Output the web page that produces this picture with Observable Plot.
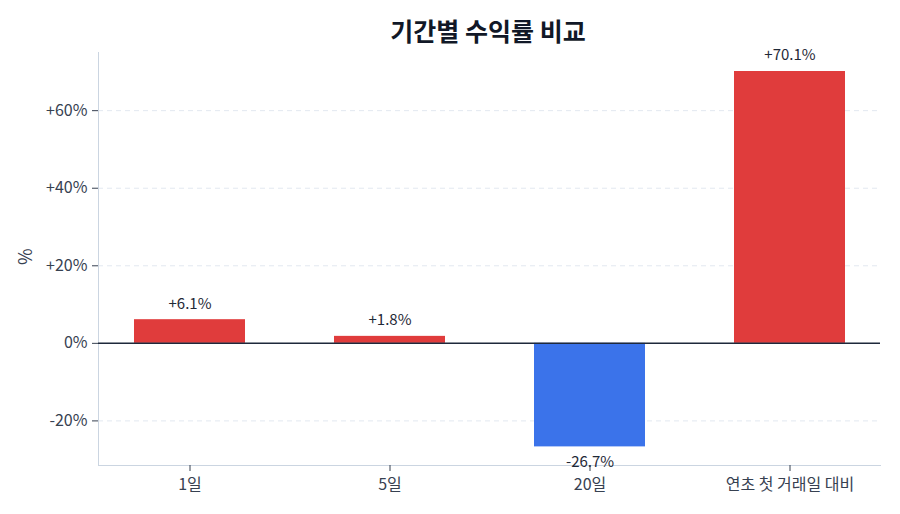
<!DOCTYPE html>
<html>
<head>
<meta charset="utf-8">
<script src="https://cdn.jsdelivr.net/npm/d3@7"></script>
<script src="https://cdn.jsdelivr.net/npm/@observablehq/plot@0.6"></script>
<style>
  body { margin: 0; background: #fff; font-family: "Noto Sans CJK KR", "Noto Sans", sans-serif; }
  #wrap { position: relative; width: 900px; height: 514px; }
  #title { position: absolute; top: 13px; left: 0; width: 900px; text-align: center; font-size: 25px; font-weight: 700; line-height: 34px; color: #111827; padding-left: 76px; box-sizing: border-box; }
</style>
</head>
<body>
<div id="wrap">
  <div id="title">기간별 수익률 비교</div>
  <div id="chart"></div>
</div>
<script>
const periods = ["1일", "5일", "20일", "연초 첫 거래일 대비"];
const returns = [6.1, 1.8, -26.7, 70.1];
const yTicks = [-20, 0, 20, 40, 60];
const yLabel = "%";

const data = periods.map((p, i) => ({period: p, value: returns[i]}));
const fmt = v => (v > 0 ? "+" : "") + v.toFixed(1) + "%";
const tickFmt = v => (v > 0 ? "+" : "") + v + "%";

const chart = Plot.plot({
  width: 900,
  height: 514,
  marginTop: 52,
  marginBottom: 49,
  marginLeft: 98,
  marginRight: 20,
  style: {fontFamily: '"Noto Sans CJK KR", "Noto Sans", sans-serif', fontSize: "16px", color: "#374151", background: "transparent"},
  x: {domain: periods, paddingInner: 0.445, paddingOuter: 0.1775, label: null},
  y: {domain: [-31.5, 75], label: null},
  marks: [
    Plot.gridY(yTicks, {stroke: "#e2e8f0", strokeOpacity: 1, strokeDasharray: "5,4"}),
    Plot.frame({anchor: "left", stroke: "#cbd5e1"}),
    Plot.frame({anchor: "bottom", stroke: "#cbd5e1"}),
    Plot.barY(data, {x: "period", y: "value", fill: d => d.value >= 0 ? "#e03c3c" : "#3b73ea"}),
    Plot.ruleY([0], {stroke: "#1e293b", strokeWidth: 1.5}),
    Plot.text(data, {x: "period", y: "value", text: d => fmt(d.value), lineAnchor: "middle", fontSize: 15, fill: "#1f2937", filter: d => d.value >= 0, dy: -16}),
    Plot.text(data, {x: "period", y: "value", text: d => fmt(d.value), lineAnchor: "middle", fontSize: 15, fill: "#1f2937", filter: d => d.value < 0, dy: 15}),
    Plot.axisY({ticks: yTicks, tickFormat: tickFmt, tickSize: 6, tickPadding: 5, stroke: "#374151", fontSize: 16, fill: "#374151", label: null}),
    Plot.text([yLabel], {frameAnchor: "left", rotate: -90, dx: -72, dy: 6, fontSize: 18, fill: "#374151", lineAnchor: "middle"}),
    Plot.axisX({tickSize: 6, tickPadding: 7, stroke: "#374151", fontSize: 16, fill: "#374151", label: null})
  ]
});
document.getElementById("chart").appendChild(chart);
</script>
</body>
</html>
